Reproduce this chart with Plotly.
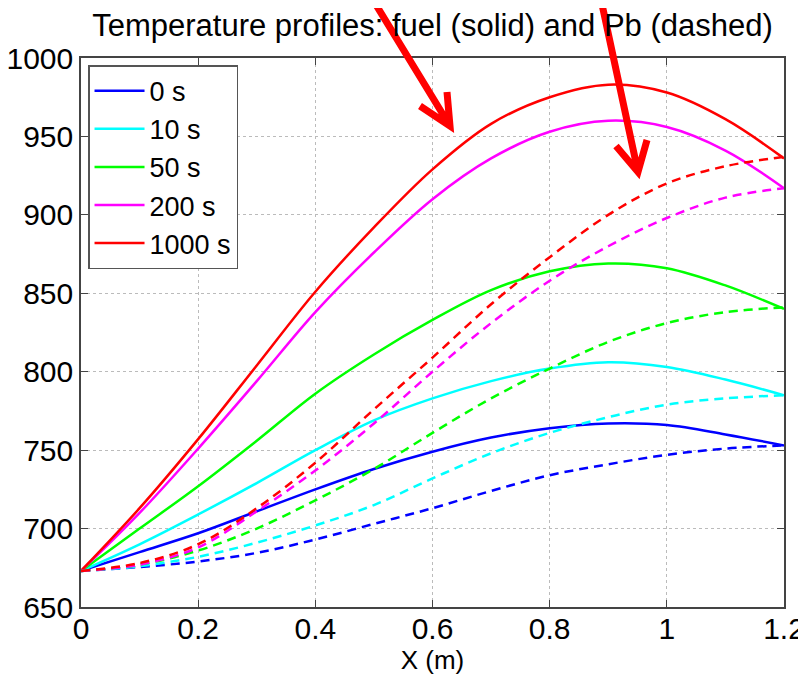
import plotly.graph_objects as go

# Position along channel (m)
x_pos = [0, 0.1, 0.2, 0.3, 0.4, 0.5, 0.6, 0.7, 0.8, 0.9, 1.0, 1.1, 1.2]

# Time labels
times = ["0 s", "10 s", "50 s", "200 s", "1000 s"]
colors = ["#0000FF", "#00FFFF", "#00FF00", "#FF00FF", "#FF0000"]

# Fuel temperature (solid)
fuel_0 = [673, 685, 697, 711, 725, 738, 749, 758, 764, 767, 766, 760, 753]
fuel_10 = [673, 690, 709, 729, 750, 769, 783, 794, 802, 806, 803, 795, 785]
fuel_50 = [673, 700, 727, 756, 786, 811, 833, 852, 864, 869, 866, 855, 840]
fuel_200 = [673, 710, 751, 794, 838, 876, 910, 936, 953, 960, 956, 941, 917]
fuel_1000 = [673, 713, 757, 804, 851, 892, 929, 958, 975, 983, 978, 961, 936]

# Pb temperature (dashed)
pb_0 = [673, 675.5, 679, 684.5, 693, 703, 713, 724, 734, 741, 747, 751, 753]
pb_10 = [673, 676, 682, 691, 702, 715, 732, 748, 761, 771, 779, 783, 785]
pb_50 = [673, 677, 686, 700, 718, 738, 761, 783, 802, 819, 831, 838, 841]
pb_200 = [673, 677, 688, 711, 737, 767, 800, 831, 858, 880, 898, 911, 917]
pb_1000 = [673, 678, 690, 713, 742, 776, 809, 843, 873, 900, 920, 931, 937]

fuel = [fuel_0, fuel_10, fuel_50, fuel_200, fuel_1000]
pb = [pb_0, pb_10, pb_50, pb_200, pb_1000]

x_ticks = [0, 0.2, 0.4, 0.6, 0.8, 1.0, 1.2]
x_tick_text = ["0", "0.2", "0.4", "0.6", "0.8", "1", "1.2"]
y_ticks = [650, 700, 750, 800, 850, 900, 950, 1000]

FONT = "Liberation Sans, Arial, Helvetica, sans-serif"

# the page body has an 8px margin; work in screen pixels and shift
OFF = 8
W, H = 806 - OFF, 676 - OFF
L, R, T, B = 81 - OFF, 784 - OFF, 58 - OFF, 607 - OFF

fig = go.Figure()
for name, c, f in zip(times, colors, fuel):
    fig.add_trace(go.Scatter(x=x_pos, y=f, mode="lines", name=name,
                             line=dict(color=c, width=2.5, shape="spline", smoothing=1.0)))
for name, c, p in zip(times, colors, pb):
    fig.add_trace(go.Scatter(x=x_pos, y=p, mode="lines", name=name + " Pb",
                             showlegend=False,
                             line=dict(color=c, width=2.5, dash="9px,6px", shape="spline", smoothing=1.0)))

def px(xs):
    return (xs - OFF - L) / (R - L)
def py(ys):
    return (B - (ys - OFF)) / (B - T)

arrows = [
    ((370, -5), (450, 126), (420, 106), (447, 92)),
    ((600, -5), (638, 172), (616, 146), (647, 140)),
]
for (s, tip, w1, w2) in arrows:
    path = (f"M {px(s[0])},{py(s[1])} L {px(tip[0])},{py(tip[1])} "
            f"M {px(w1[0])},{py(w1[1])} L {px(tip[0])},{py(tip[1])} L {px(w2[0])},{py(w2[1])}")
    fig.add_shape(type="path", path=path, xref="paper", yref="paper",
                  line=dict(color="#FF0000", width=7), layer="above")

fig.update_layout(
    width=W, height=H,
    margin=dict(l=L, r=W - R, t=T, b=H - B),
    paper_bgcolor="white", plot_bgcolor="white",
    font=dict(family=FONT, size=28, color="black"),
    title=dict(text="Temperature profiles: fuel (solid) and Pb (dashed)",
               x=((L + R) / 2) / W, xanchor="center", y=1 - 17 / H, yanchor="middle",
               font=dict(size=31, family=FONT)),
    showlegend=True,
    legend=dict(x=0.01, y=0.987, xanchor="left", yanchor="top",
                bgcolor="white", bordercolor="#555555", borderwidth=1.5,
                font=dict(size=27, family=FONT), itemwidth=50,
                tracegroupgap=0),
)
fig.update_xaxes(range=[0, 1.2], tickvals=x_ticks, ticktext=x_tick_text,
                 ticks="inside", ticklen=7, tickcolor="#444444", automargin=False,
                 showline=True, linecolor="#444444", linewidth=1.5, mirror="ticks",
                 showgrid=True, gridcolor="#BBBBBB", griddash="dot", gridwidth=1,
                 zeroline=False, tickfont=dict(size=30), ticklabelstandoff=-6,
                 title=dict(text="X (m)", font=dict(size=26), standoff=0))
fig.update_yaxes(range=[650, 1000], tickvals=y_ticks,
                 ticks="inside", ticklen=7, tickcolor="#444444", automargin=False,
                 showline=True, linecolor="#444444", linewidth=1.5, mirror="ticks",
                 showgrid=True, gridcolor="#BBBBBB", griddash="dot", gridwidth=1,
                 zeroline=False, tickfont=dict(size=30))

fig.write_html("out.html")
